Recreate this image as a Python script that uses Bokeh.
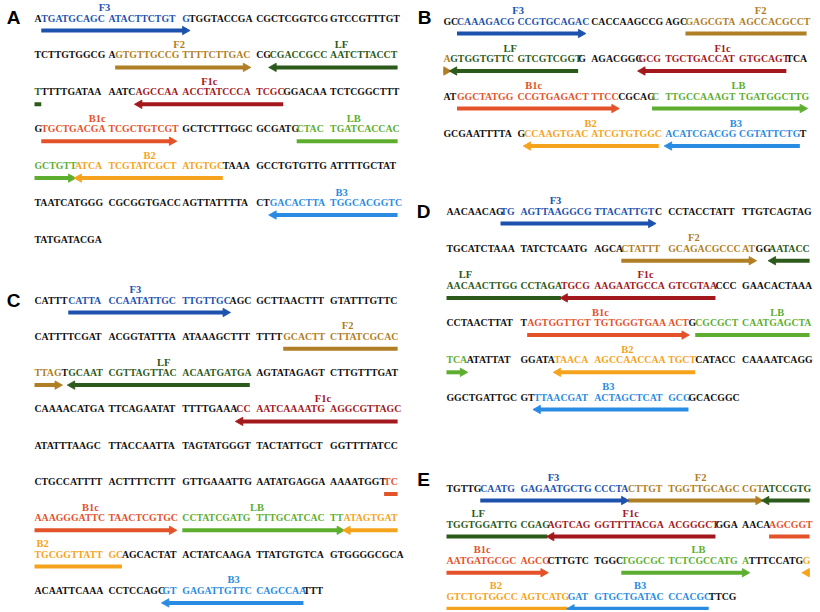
import math
from bokeh.plotting import figure
from bokeh.models import Range1d, ColumnDataSource
from bokeh.embed import file_html
from bokeh.resources import INLINE
from bokeh.core.properties import value

# ---------------- data ----------------
primer_names = ["F3", "F2", "LF", "F1c", "B1c", "LB", "B2", "B3"]
primer_colors = ["#1C52AE", "#B07E24", "#2C5A1A", "#A3181C", "#E4522A", "#5DAE2F", "#F5A31C", "#2A8BE2"]
primer_dirs = [1, 1, -1, -1, 1, 1, -1, -1]

seq_A = [
    "ATGATGCAGC ATACTTCTGT GTGGTACCGA CGCTCGGTCG GTCCGTTTGT",
    "TCTTGTGGCG AGTGTTGCCG TTTTCTTGAC CGCGACCGCC AATCTTACCT",
    "TTTTTGATAA AATCAGCCAA ACCTATCCCA TCGCGGACAA TCTCGGCTTT",
    "GTGCTGACGA TCGCTGTCGT GCTCTTTGGC GCGATGCTAC TGATCACCAC",
    "GCTGTTATCA TCGTATCGCT ATGTGCTAAA GCCTGTGTTG ATTTTGCTAT",
    "TAATCATGGG CGCGGTGACC AGTTATTTTA CTGACACTTA TGGCACGGTC",
    "TATGATACGA",
]
start_A = [1, 61, 82, 114, 151, 186, 206, 282]
end_A = [20, 79, 100, 133, 169, 205, 225, 299]
label_line_A = [0, 1, 1, 2, 3, 3, 4, 5]
label_pos_A = [9.45, 19.5, 41.2, 23.5, 8.8, 43.0, 15.6, 41.2]

seq_B = [
    "GCCAAAGACG CCGTGCAGAC CACCAAGCCG AGCGAGCGTA AGCCACGCCT",
    "AGTGGTGTTC GTCGTCGGTG AGACGGCGCG TGCTGACCAT GTGCAGTTCA",
    "ATGGCTATGG CCGTGAGACT TTCCCGCAGC TTGCCAAAGT TGATGGCTTG",
    "GCGAATTTTA GCCAAGTGAC ATCGTGTGGC ACATCGACGG CGTATTCTGT",
]
start_B = [2, 33, 51, 77, 102, 129, 161, 180]
end_B = [19, 50, 68, 96, 123, 149, 179, 198]
label_line_B = [0, 0, 1, 1, 2, 2, 3, 3]
label_pos_B = [9.8, 42.7, 9.2, 38.0, 11.9, 39.7, 19.7, 39.5]

seq_C = [
    "CATTTCATTA CCAATATTGC TTGTTGCAGC GCTTAACTTT GTATTTGTTC",
    "CATTTTCGAT ACGGTATTTA ATAAAGCTTT TTTTGCACTT CTTATCGCAC",
    "TTAGTGCAAT CGTTAGTTAC ACAATGATGA AGTATAGAGT CTTGTTTGAT",
    "CAAAACATGA TTCAGAATAT TTTTGAAACC AATCAAAATG AGGCGTTAGC",
    "ATATTTAAGC TTACCAATTA TAGTATGGGT TACTATTGCT GGTTTTATCC",
    "CTGCCATTTT ACTTTTCTTT GTTGAAATTG AATATGAGGA AAAATGGTTC",
    "AAAGGGATTC TAACTCGTGC CCTATCGATG TTTGCATCAC TTATAGTGAT",
    "TGCGGTTATT GCAGCACTAT ACTATCAAGA TTATGTGTCA GTGGGGCGCA",
    "ACAATTCAAA CCTCCAGCGT GAGATTGTTC CAGCCAATTT",
]
start_C = [5, 84, 105, 178, 298, 320, 342, 418]
end_C = [26, 103, 129, 199, 319, 341, 361, 436]
label_line_C = [0, 1, 2, 3, 6, 6, 7, 8]
label_pos_C = [13.5, 42.1, 17.7, 39.2, 7.8, 29.8, 0.7, 27.1]

seq_D = [
    "AACAACAGTG AGTTAAGGCG TTACATTGTC CCTACCTATT TTGTCAGTAG",
    "TGCATCTAAA TATCTCAATG AGCACTATTT GCAGACGCCC ATGGAATACC",
    "AACAACTTGG CCTAGATGCG AAGAATGCCA GTCGTAACCC GAACACTAAA",
    "CCTAACTTAT TAGTGGTTGT TGTGGGTGAA ACTGCGCGCT CAATGAGCTA",
    "TCAATATTAT GGATATAACA AGCCAACCAA TGCTCATACC CAAAATCAGG",
    "GGCTGATTGC GTTTAACGAT ACTAGCTCAT GCGGCACGGC",
]
start_D = [8, 74, 94, 116, 161, 184, 215, 262]
end_D = [28, 91, 115, 136, 182, 202, 233, 282]
label_line_D = [0, 1, 2, 2, 3, 3, 4, 5]
label_pos_D = [14.7, 33.3, 2.3, 27.1, 20.4, 44.7, 24.4, 21.6]

seq_E = [
    "TGTTGCAATG GAGAATGCTG CCCTACTTGT TGGTTGCAGC CGTATCCGTG",
    "TGGTGGATTG CGAGAGTCAG GGTTTTACGA ACGGGCTGGA AACAAGCGGT",
    "AATGATGCGC AGCGCTTGTC TGGCTGGCGC TCTCGCCATG ATTTCCATGG",
    "GTCTGTGGCC AGTCATGGAT GTGCTGATAC CCACGCTTCG",
]
start_E = [5, 25, 43, 64, 94, 124, 149, 167]
end_E = [24, 42, 63, 86, 113, 140, 166, 185]
label_line_E = [0, 0, 1, 1, 2, 2, 3, 3]
label_pos_E = [14.4, 34.3, 4.2, 24.9, 4.8, 34.0, 6.8, 26.3]

panel_letters = ["A", "B", "C", "D", "E"]

# ---------------- layout ----------------
P = 6.75      # letter pitch
GP = 73.9     # group (10 letters) pitch
ARROW_DY = 12.5
LABEL_DY = -10.5
HEAD_LEN = 7.5
HEAD_HALF = 4.2
W, H = 816, 610

panels = [
    dict(seq=seq_A, s=start_A, e=end_A, ll=label_line_A, lp=label_pos_A, x0=34, y0=17.5, dy=36.9, lx=13, ly=17),
    dict(seq=seq_B, s=start_B, e=end_B, ll=label_line_B, lp=label_pos_B, x0=443, y0=20.5, dy=37.5, lx=424, ly=17),
    dict(seq=seq_C, s=start_C, e=end_C, ll=label_line_C, lp=label_pos_C, x0=34, y0=299.5, dy=36.3, lx=13, ly=300),
    dict(seq=seq_D, s=start_D, e=end_D, ll=label_line_D, lp=label_pos_D, x0=446, y0=210.5, dy=37.2, lx=423, ly=211),
    dict(seq=seq_E, s=start_E, e=end_E, ll=label_line_E, lp=label_pos_E, x0=446, y0=487.5, dy=36.1, lx=423, ly=479),
]


def x_left(x0, i):
    return x0 + (i // 10) * GP + (i % 10) * P


def x_center(x0, f):
    i = int(math.floor(f))
    fr = f - i
    c0 = x_left(x0, i) + P / 2
    c1 = x_left(x0, i + 1) + P / 2
    return c0 + fr * (c1 - c0)


txt = dict(x=[], y=[], text=[], color=[])
lab = dict(x=[], y=[], text=[], color=[])
bars = dict(x0=[], y0=[], x1=[], y1=[], color=[])
heads = dict(xs=[], ys=[], color=[])
letters = dict(x=[], y=[], text=[])

BLACK = "#111111"

for pi, pn in enumerate(panels):
    x0, y0, dy = pn["x0"], pn["y0"], pn["dy"]
    lines = [s.replace(" ", "") for s in pn["seq"]]
    n = sum(len(l) for l in lines)
    cols = [BLACK] * n
    for k in range(len(primer_names)):
        for g in range(pn["s"][k], pn["e"][k] + 1):
            cols[g] = primer_colors[k]
    off = 0
    for li, line in enumerate(lines):
        y = y0 + li * dy
        for gs in range(0, len(line), 10):
            grp = line[gs:gs + 10]
            j = 0
            while j < len(grp):
                c = cols[off + gs + j]
                k2 = j
                while k2 < len(grp) and cols[off + gs + k2] == c:
                    k2 += 1
                txt["x"].append(x_left(x0, gs + j))
                txt["y"].append(y)
                txt["text"].append(grp[j:k2])
                txt["color"].append(c)
                j = k2
        off += len(line)

    for k in range(len(primer_names)):
        s, e, d, c = pn["s"][k], pn["e"][k], primer_dirs[k], primer_colors[k]
        fl, ll_ = s // 50, e // 50
        for L in range(fl, ll_ + 1):
            a = max(s, L * 50) - L * 50
            b = min(e, L * 50 + 49) - L * 50
            xa = x_left(x0, a)
            xb = x_left(x0, b) + P
            y = y0 + L * dy + ARROW_DY
            if d > 0 and L == ll_:
                tip = xb + 1
                base = tip - HEAD_LEN
                heads["xs"].append([tip, base, base])
                heads["ys"].append([y, y - HEAD_HALF, y + HEAD_HALF])
                heads["color"].append(c)
                if base > xa:
                    bars["x0"].append(xa); bars["x1"].append(base + 0.5)
                    bars["y0"].append(y); bars["y1"].append(y); bars["color"].append(c)
            elif d < 0 and L == fl:
                tip = xa - 1
                base = tip + HEAD_LEN
                heads["xs"].append([tip, base, base])
                heads["ys"].append([y, y - HEAD_HALF, y + HEAD_HALF])
                heads["color"].append(c)
                if xb > base:
                    bars["x0"].append(base - 0.5); bars["x1"].append(xb)
                    bars["y0"].append(y); bars["y1"].append(y); bars["color"].append(c)
            else:
                bars["x0"].append(xa); bars["x1"].append(xb)
                bars["y0"].append(y); bars["y1"].append(y); bars["color"].append(c)

        lab["x"].append(x_center(x0, pn["lp"][k]))
        lab["y"].append(y0 + pn["ll"][k] * dy + LABEL_DY)
        lab["text"].append(primer_names[k])
        lab["color"].append(c)

    letters["x"].append(pn["lx"])
    letters["y"].append(pn["ly"])
    letters["text"].append(panel_letters[pi])

# ---------------- figure ----------------
p = figure(width=W, height=H, output_backend="svg", toolbar_location=None,
           x_range=Range1d(0, W), y_range=Range1d(H, 0),
           x_axis_type=None, y_axis_type=None, min_border=0)
p.grid.visible = False
p.outline_line_color = None
p.background_fill_color = "white"

p.segment(x0="x0", y0="y0", x1="x1", y1="y1", color="color", line_width=4,
          line_cap="butt", source=ColumnDataSource(bars))
p.patches(xs="xs", ys="ys", fill_color="color", line_color="color", line_width=0.8,
          source=ColumnDataSource(heads))

p.text(x="x", y="y", text="text", text_color="color", source=ColumnDataSource(txt),
       text_font=value("Liberation Serif"), text_font_style="bold", text_font_size="9.8px",
       text_align="left", text_baseline="middle")

p.text(x="x", y="y", text="text", text_color="color", source=ColumnDataSource(lab),
       text_font=value("Liberation Serif"), text_font_style="bold", text_font_size="10.5px",
       text_align="center", text_baseline="middle")

p.text(x="x", y="y", text="text", text_color="#000000", source=ColumnDataSource(letters),
       text_font=value("Liberation Sans"), text_font_style="bold", text_font_size="19px",
       text_align="center", text_baseline="middle")

open("out.html", "w").write(file_html(p, INLINE))
